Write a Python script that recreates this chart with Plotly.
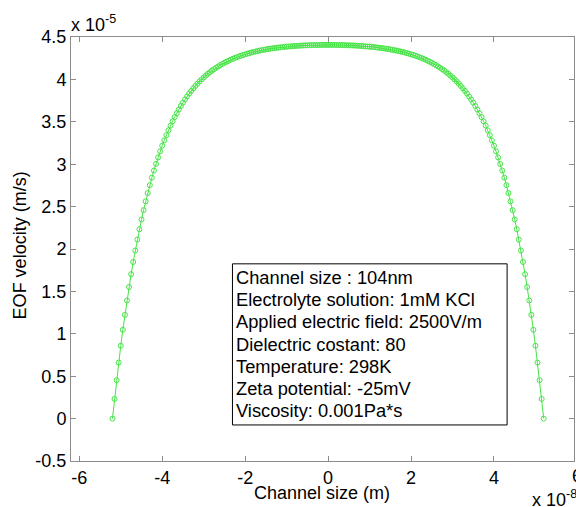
import plotly.graph_objects as go

# Channel position (nm) and EOF velocity (x 1e-5 m/s)
x_nm = [
    -52.0, -51.5, -51.0, -50.5, -50.0, -49.5, -49.0, -48.5, -48.0, -47.5,
    -47.0, -46.5, -46.0, -45.5, -45.0, -44.5, -44.0, -43.5, -43.0, -42.5,
    -42.0, -41.5, -41.0, -40.5, -40.0, -39.5, -39.0, -38.5, -38.0, -37.5,
    -37.0, -36.5, -36.0, -35.5, -35.0, -34.5, -34.0, -33.5, -33.0, -32.5,
    -32.0, -31.5, -31.0, -30.5, -30.0, -29.5, -29.0, -28.5, -28.0, -27.5,
    -27.0, -26.5, -26.0, -25.5, -25.0, -24.5, -24.0, -23.5, -23.0, -22.5,
    -22.0, -21.5, -21.0, -20.5, -20.0, -19.5, -19.0, -18.5, -18.0, -17.5,
    -17.0, -16.5, -16.0, -15.5, -15.0, -14.5, -14.0, -13.5, -13.0, -12.5,
    -12.0, -11.5, -11.0, -10.5, -10.0, -9.5, -9.0, -8.5, -8.0, -7.5,
    -7.0, -6.5, -6.0, -5.5, -5.0, -4.5, -4.0, -3.5, -3.0, -2.5,
    -2.0, -1.5, -1.0, -0.5, 0.0, 0.5, 1.0, 1.5, 2.0, 2.5,
    3.0, 3.5, 4.0, 4.5, 5.0, 5.5, 6.0, 6.5, 7.0, 7.5,
    8.0, 8.5, 9.0, 9.5, 10.0, 10.5, 11.0, 11.5, 12.0, 12.5,
    13.0, 13.5, 14.0, 14.5, 15.0, 15.5, 16.0, 16.5, 17.0, 17.5,
    18.0, 18.5, 19.0, 19.5, 20.0, 20.5, 21.0, 21.5, 22.0, 22.5,
    23.0, 23.5, 24.0, 24.5, 25.0, 25.5, 26.0, 26.5, 27.0, 27.5,
    28.0, 28.5, 29.0, 29.5, 30.0, 30.5, 31.0, 31.5, 32.0, 32.5,
    33.0, 33.5, 34.0, 34.5, 35.0, 35.5, 36.0, 36.5, 37.0, 37.5,
    38.0, 38.5, 39.0, 39.5, 40.0, 40.5, 41.0, 41.5, 42.0, 42.5,
    43.0, 43.5, 44.0, 44.5, 45.0, 45.5, 46.0, 46.5, 47.0, 47.5,
    48.0, 48.5, 49.0, 49.5, 50.0, 50.5, 51.0, 51.5, 52.0,
]

vel_e5 = [
    0.000, 0.232, 0.453, 0.661, 0.859, 1.047, 1.224, 1.393, 1.552, 1.703,
    1.847, 1.982, 2.111, 2.233, 2.348, 2.458, 2.562, 2.660, 2.753, 2.841,
    2.925, 3.004, 3.080, 3.151, 3.218, 3.282, 3.343, 3.400, 3.455, 3.506,
    3.555, 3.601, 3.645, 3.687, 3.726, 3.764, 3.799, 3.833, 3.864, 3.895,
    3.923, 3.950, 3.976, 4.000, 4.023, 4.045, 4.066, 4.085, 4.104, 4.121,
    4.137, 4.153, 4.168, 4.182, 4.196, 4.208, 4.220, 4.232, 4.242, 4.253,
    4.262, 4.271, 4.280, 4.288, 4.296, 4.303, 4.310, 4.317, 4.323, 4.329,
    4.334, 4.340, 4.345, 4.349, 4.354, 4.358, 4.362, 4.365, 4.369, 4.372,
    4.375, 4.378, 4.381, 4.384, 4.386, 4.388, 4.390, 4.392, 4.394, 4.396,
    4.397, 4.399, 4.400, 4.401, 4.402, 4.403, 4.404, 4.405, 4.405, 4.406,
    4.406, 4.407, 4.407, 4.407, 4.407,
    4.407, 4.407, 4.407, 4.406, 4.406, 4.405, 4.405, 4.404, 4.403, 4.402,
    4.401, 4.400, 4.399, 4.397, 4.396, 4.394, 4.392, 4.390, 4.388, 4.386,
    4.384, 4.381, 4.378, 4.375, 4.372, 4.369, 4.365, 4.362, 4.358, 4.354,
    4.349, 4.345, 4.340, 4.334, 4.329, 4.323, 4.317, 4.310, 4.303, 4.296,
    4.288, 4.280, 4.271, 4.262, 4.253, 4.242, 4.232, 4.220, 4.208, 4.196,
    4.182, 4.168, 4.153, 4.137, 4.121, 4.104, 4.085, 4.066, 4.045, 4.023,
    4.000, 3.976, 3.950, 3.923, 3.895, 3.864, 3.833, 3.799, 3.764, 3.726,
    3.687, 3.645, 3.601, 3.555, 3.506, 3.455, 3.400, 3.343, 3.282, 3.218,
    3.151, 3.080, 3.004, 2.925, 2.841, 2.753, 2.660, 2.562, 2.458, 2.348,
    2.233, 2.111, 1.982, 1.847, 1.703, 1.552, 1.393, 1.224, 1.047, 0.859,
    0.661, 0.453, 0.232, 0.000,
]

x_tick_vals = [-6, -4, -2, 0, 2, 4]
x_tick_text = ["-6", "-4", "-2", "0", "2", "4"]
y_tick_vals = [-0.5, 0, 0.5, 1, 1.5, 2, 2.5, 3, 3.5, 4, 4.5]
y_tick_text = ["-0.5", "0", "0.5", "1", "1.5", "2", "2.5", "3", "3.5", "4", "4.5"]

info_lines = [
    "Channel size : 104nm",
    "Electrolyte solution: 1mM KCl",
    "Applied electric field: 2500V/m",
    "Dielectric costant: 80",
    "Temperature: 298K",
    "Zeta potential: -25mV",
    "Viscosity: 0.001Pa*s",
]

assert len(x_nm) == len(vel_e5)

FONT = "Liberation Sans, Arial, sans-serif"
GREEN = "rgb(70,228,70)"
AX = "#8c8c8c"
FS = 18

# plot in units of 1e-8 m and 1e-5 m/s (MATLAB-style exponent labels)
xs = [v / 10.0 for v in x_nm]

fig = go.Figure()
fig.add_trace(go.Scatter(
    x=xs, y=vel_e5, mode="lines+markers",
    line=dict(color=GREEN, width=1),
    marker=dict(symbol="circle-open", size=5, color=GREEN, line=dict(width=1, color=GREEN)),
    showlegend=False, hoverinfo="skip",
))

axis_common = dict(
    showline=True, linecolor=AX, linewidth=1, mirror="ticks",
    ticks="inside", ticklen=5, tickcolor=AX, tickwidth=1,
    showgrid=False, zeroline=False,
    tickfont=dict(family=FONT, size=FS, color="black"),
)

fig.update_xaxes(range=[-6.2, 5.93], tickmode="array",
                 tickvals=x_tick_vals, ticktext=x_tick_text, **axis_common)
fig.update_yaxes(range=[-0.5, 4.5], tickmode="array",
                 tickvals=y_tick_vals, ticktext=y_tick_text, **axis_common)

annotations = [
    dict(text="EOF velocity (m/s)", xref="paper", yref="paper", x=-0.101, y=0.509,
         textangle=-90, showarrow=False, xanchor="center", yanchor="middle",
         font=dict(family=FONT, size=FS, color="black")),
    dict(text="Channel size (m)", xref="paper", yref="paper", x=0.499, y=-0.0755,
         showarrow=False, xanchor="center", yanchor="middle",
         font=dict(family=FONT, size=FS, color="black")),
    dict(text="x 10<sup>-5</sup>", xref="paper", yref="paper", x=-0.004, y=0.999,
         showarrow=False, xanchor="left", yanchor="bottom",
         font=dict(family=FONT, size=FS, color="black")),
    dict(text="x 10<sup>-8</sup>", xref="paper", yref="paper", x=0.912, y=-0.088,
         showarrow=False, xanchor="left", yanchor="middle",
         font=dict(family=FONT, size=FS, color="black")),
    dict(text="6", xref="paper", yref="paper", x=1.006, y=0.0,
         showarrow=False, xanchor="center", yanchor="top", yshift=-3,
         font=dict(family=FONT, size=FS, color="black")),
]

# info box: one annotation per line (plot area spans 424 px vertically)
PLOT_H = 424.0
first_line_y = 0.433   # paper y of first line's centre
line_step = 22.2 / PLOT_H
for i, line in enumerate(info_lines):
    annotations.append(dict(
        text=line, xref="paper", yref="paper", x=0.325, y=first_line_y - i * line_step,
        showarrow=False, xanchor="left", yanchor="middle", align="left",
        font=dict(family=FONT, size=18.3, color="black")))

fig.add_shape(type="rect", xref="paper", yref="paper", x0=0.321, x1=0.867,
              y0=0.085, y1=0.465, line=dict(color="black", width=1),
              fillcolor="white", layer="below")

fig.update_layout(
    width=576, height=507,
    margin=dict(l=71, r=2, t=37, b=46),
    paper_bgcolor="white", plot_bgcolor="white",
    annotations=annotations,
    font=dict(family=FONT),
)

fig.write_html("out.html", config={"displayModeBar": False})

# remove the browser's default page margin so the figure sits at the top-left corner
with open("out.html", "r", encoding="utf-8") as f:
    html = f.read()
html = html.replace("<head>", "<head><style>html,body{margin:0;padding:0;overflow:hidden;}</style>", 1)
with open("out.html", "w", encoding="utf-8") as f:
    f.write(html)
